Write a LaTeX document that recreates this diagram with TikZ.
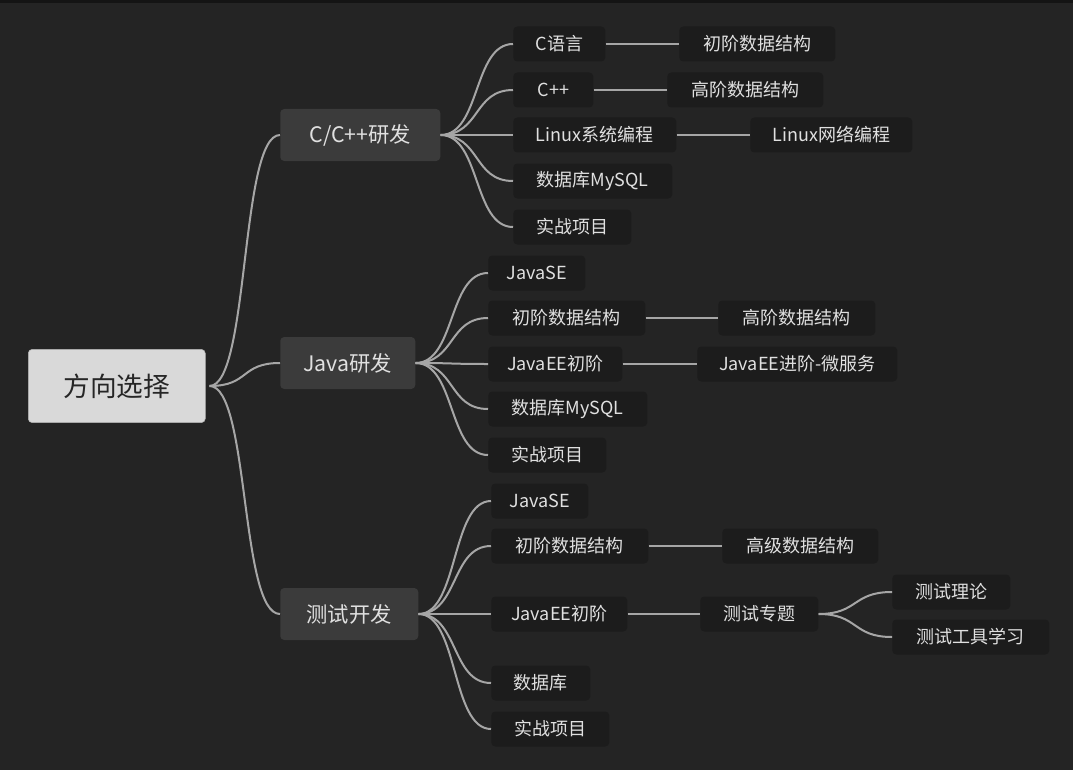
\documentclass[tikz,border=0pt]{standalone}
\usepackage{fontspec}
\setmainfont{Noto Sans CJK SC}
\begin{document}
\begin{tikzpicture}[x=0.75pt,y=-0.75pt,
  w/.style={minimum width=#1*0.75pt},
  base/.style={rounded corners=3pt,inner sep=0pt,anchor=west,text=white!88!black},
  root/.style={base,fill=black!15,text=black!85,minimum height=55pt,font=\fontsize{20}{24}\selectfont,draw=black!30},
  lone/.style={base,fill=black!77,minimum height=39pt,font=\fontsize{16}{20}\selectfont},
  ltwo/.style={base,fill=black!89,minimum height=26.25pt,font=\fontsize{13.5}{16}\selectfont},
  ed/.style={draw=black!35,line width=1.5pt}]
\fill[black!86] (0,0) rectangle (1073,770);
\fill[black!92] (0,0) rectangle (1073,3);
\node[root,w=177] (r) at (28,386) {方向选择};
\node[lone,w=160] (a) at (280,135) {C/C++研发};
\node[lone,w=135] (b) at (280,363) {Java研发};
\node[lone,w=138] (c) at (280,614) {测试开发};
% C group
\node[ltwo,w=92] (a1) at (513,44) {C语言};
\node[ltwo,w=80] (a2) at (513,90) {C++};
\node[ltwo,w=163] (a3) at (513,135) {Linux系统编程};
\node[ltwo,w=159] (a4) at (513,181) {数据库MySQL};
\node[ltwo,w=118] (a5) at (513,227) {实战项目};
\node[ltwo,w=156] (a1x) at (679,44) {初阶数据结构};
\node[ltwo,w=156] (a2x) at (667,90) {高阶数据结构};
\node[ltwo,w=162] (a3x) at (750,135) {Linux网络编程};
% Java group
\node[ltwo,w=97] (b1) at (488,273) {JavaSE};
\node[ltwo,w=157] (b2) at (488,318) {初阶数据结构};
\node[ltwo,w=134] (b3) at (488,364) {JavaEE初阶};
\node[ltwo,w=159] (b4) at (488,409) {数据库MySQL};
\node[ltwo,w=118] (b5) at (488,455) {实战项目};
\node[ltwo,w=157] (b2x) at (718,318) {高阶数据结构};
\node[ltwo,w=200] (b3x) at (697,364) {JavaEE进阶-微服务};
% Test group
\node[ltwo,w=97] (c1) at (491,501) {JavaSE};
\node[ltwo,w=157] (c2) at (491,546) {初阶数据结构};
\node[ltwo,w=136] (c3) at (491,614) {JavaEE初阶};
\node[ltwo,w=99] (c4) at (491,683) {数据库};
\node[ltwo,w=118] (c5) at (491,729) {实战项目};
\node[ltwo,w=156] (c2x) at (722,546) {高级数据结构};
\node[ltwo,w=118] (c3x) at (700,614) {测试专题};
\node[ltwo,w=118] (d1) at (892,592) {测试理论};
\node[ltwo,w=157] (d2) at (892,637) {测试工具学习};
% edges
\foreach \t in {a,b,c}
  \draw[ed] ([xshift=3pt]r.east) .. controls +(40,0) and +(-40,0) .. (\t.west);
\foreach \t in {a1,a2,a3,a4,a5}
  \draw[ed] (a.east) .. controls +(40,0) and +(-40,0) .. (\t.west);
\foreach \t in {b1,b2,b3,b4,b5}
  \draw[ed] (b.east) .. controls +(40,0) and +(-40,0) .. (\t.west);
\foreach \t in {c1,c2,c3,c4,c5}
  \draw[ed] (c.east) .. controls +(40,0) and +(-40,0) .. (\t.west);
\draw[ed] (a1.east) -- (a1x.west);
\draw[ed] (a2.east) -- (a2x.west);
\draw[ed] (a3.east) -- (a3x.west);
\draw[ed] (b2.east) -- (b2x.west);
\draw[ed] (b3.east) -- (b3x.west);
\draw[ed] (c2.east) -- (c2x.west);
\draw[ed] (c3.east) -- (c3x.west);
\draw[ed] (c3x.east) .. controls +(40,0) and +(-40,0) .. (d1.west);
\draw[ed] (c3x.east) .. controls +(40,0) and +(-40,0) .. (d2.west);
\end{tikzpicture}
\end{document}
